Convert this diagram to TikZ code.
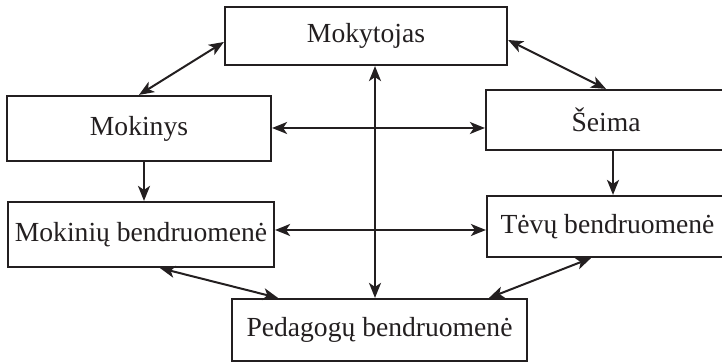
\documentclass[tikz,border=0pt]{standalone}
\usepackage{fontspec}
\setmainfont{Liberation Serif}
\usetikzlibrary{arrows.meta,calc}
\definecolor{ink}{HTML}{231F20}
\begin{document}
\begin{tikzpicture}[x=0.5pt,y=-0.5pt,
  box/.style={draw=ink,line width=1.1pt,rectangle,inner sep=0pt,text=ink,font=\fontsize{13.8}{16}\selectfont},
  link/.style={draw=ink,line width=1pt},
  both/.style={link,{Stealth[length=7.5pt,width=6pt,inset=2pt]}-{Stealth[length=7.5pt,width=6pt,inset=2pt]}},
  one/.style={link,-{Stealth[length=7.5pt,width=6pt,inset=2pt]}}]
\clip (0,0) rectangle (722,362);
\node[box,minimum width=141pt,minimum height=29pt] (mt) at (366,36) {Mokytojas};
\node[box,minimum width=132pt,minimum height=32.5pt] (mk) at (139,128.5) {Mokinys};
\node[box,minimum width=120pt,minimum height=30pt] (se) at (606,120) {Šeima};
\node[box,minimum width=133pt,minimum height=32.5pt] (mb) at (141,234.5) {Mokinių bendruomenė};
\node[box,minimum width=120.5pt,minimum height=30.5pt] (tb) at (607.5,226.5) {Tėvų bendruomenė};
\node[box,minimum width=147.5pt,minimum height=31pt] (pb) at (379.5,330) {Pedagogų bendruomenė};
% connectors
\draw[both] (mk.north) -- ([yshift=-3pt]mt.west);
\draw[both] ([yshift=-2pt]mt.east) -- (se.north);
\draw[both] ([yshift=0.25pt]mk.east) -- ([yshift=0.25pt]mk.east -| se.west);
\draw[both] ([yshift=2.25pt]mb.east) -- ([yshift=2.25pt]mb.east -| tb.west);
\draw[both] ([xshift=4.5pt]mt.south) -- ([xshift=4.5pt]mt.south |- pb.north);
\draw[one] ([xshift=2.5pt]mk.south) -- ([xshift=2.5pt]mk.south |- mb.north);
\draw[one] ([xshift=3.5pt]se.south) -- ([xshift=3.5pt]se.south |- tb.north);
\draw[both] ([xshift=9.5pt]mb.south) -- ([xshift=-50.75pt]pb.north);
\draw[both] ([xshift=-8.25pt]tb.south) -- ([xshift=54.75pt]pb.north);
\end{tikzpicture}
\end{document}
